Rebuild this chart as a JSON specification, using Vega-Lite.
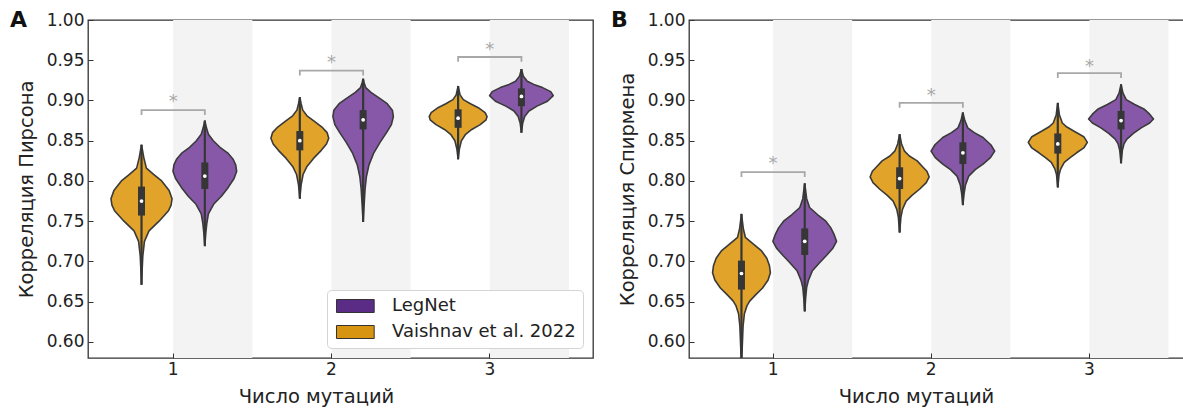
{
  "$schema": "https://vega.github.io/schema/vega-lite/v6.json",
  "background": "white",
  "padding": {"left": 9, "top": 8, "right": 0, "bottom": 0},
  "config": {
    "font": "DejaVu Sans",
    "view": {"stroke": "#333333", "strokeWidth": 1.3},
    "axis": {"labelFontSize": 17, "titleFontSize": 19.5, "titleFontWeight": "normal", "labelColor": "#222222", "titleColor": "#222222", "tickColor": "#333333", "grid": false, "domain": false, "tickSize": -5}
  },
  "datasets": {
    "viol": [
      {"p":"A","mut":1,"model":"Vaishnav et al. 2022","v":0.671,"d":0},{"p":"A","mut":1,"model":"Vaishnav et al. 2022","v":0.690,"d":0.02},{"p":"A","mut":1,"model":"Vaishnav et al. 2022","v":0.707,"d":0.04},{"p":"A","mut":1,"model":"Vaishnav et al. 2022","v":0.725,"d":0.09},{"p":"A","mut":1,"model":"Vaishnav et al. 2022","v":0.738,"d":0.23},{"p":"A","mut":1,"model":"Vaishnav et al. 2022","v":0.750,"d":0.54},{"p":"A","mut":1,"model":"Vaishnav et al. 2022","v":0.763,"d":0.83},{"p":"A","mut":1,"model":"Vaishnav et al. 2022","v":0.770,"d":0.91},{"p":"A","mut":1,"model":"Vaishnav et al. 2022","v":0.778,"d":0.94},{"p":"A","mut":1,"model":"Vaishnav et al. 2022","v":0.788,"d":0.85},{"p":"A","mut":1,"model":"Vaishnav et al. 2022","v":0.800,"d":0.62},{"p":"A","mut":1,"model":"Vaishnav et al. 2022","v":0.808,"d":0.38},{"p":"A","mut":1,"model":"Vaishnav et al. 2022","v":0.816,"d":0.15},{"p":"A","mut":1,"model":"Vaishnav et al. 2022","v":0.829,"d":0.07},{"p":"A","mut":1,"model":"Vaishnav et al. 2022","v":0.845,"d":0},
      {"p":"A","mut":1,"model":"LegNet","v":0.719,"d":0},{"p":"A","mut":1,"model":"LegNet","v":0.735,"d":0.03},{"p":"A","mut":1,"model":"LegNet","v":0.747,"d":0.06},{"p":"A","mut":1,"model":"LegNet","v":0.759,"d":0.11},{"p":"A","mut":1,"model":"LegNet","v":0.771,"d":0.27},{"p":"A","mut":1,"model":"LegNet","v":0.781,"d":0.51},{"p":"A","mut":1,"model":"LegNet","v":0.792,"d":0.72},{"p":"A","mut":1,"model":"LegNet","v":0.803,"d":0.90},{"p":"A","mut":1,"model":"LegNet","v":0.812,"d":0.98},{"p":"A","mut":1,"model":"LegNet","v":0.820,"d":0.95},{"p":"A","mut":1,"model":"LegNet","v":0.827,"d":0.87},{"p":"A","mut":1,"model":"LegNet","v":0.835,"d":0.70},{"p":"A","mut":1,"model":"LegNet","v":0.841,"d":0.49},{"p":"A","mut":1,"model":"LegNet","v":0.850,"d":0.26},{"p":"A","mut":1,"model":"LegNet","v":0.858,"d":0.11},{"p":"A","mut":1,"model":"LegNet","v":0.866,"d":0.05},{"p":"A","mut":1,"model":"LegNet","v":0.875,"d":0},
      {"p":"A","mut":2,"model":"Vaishnav et al. 2022","v":0.778,"d":0},{"p":"A","mut":2,"model":"Vaishnav et al. 2022","v":0.795,"d":0.04},{"p":"A","mut":2,"model":"Vaishnav et al. 2022","v":0.808,"d":0.10},{"p":"A","mut":2,"model":"Vaishnav et al. 2022","v":0.818,"d":0.22},{"p":"A","mut":2,"model":"Vaishnav et al. 2022","v":0.828,"d":0.42},{"p":"A","mut":2,"model":"Vaishnav et al. 2022","v":0.838,"d":0.66},{"p":"A","mut":2,"model":"Vaishnav et al. 2022","v":0.846,"d":0.82},{"p":"A","mut":2,"model":"Vaishnav et al. 2022","v":0.853,"d":0.89},{"p":"A","mut":2,"model":"Vaishnav et al. 2022","v":0.860,"d":0.84},{"p":"A","mut":2,"model":"Vaishnav et al. 2022","v":0.867,"d":0.68},{"p":"A","mut":2,"model":"Vaishnav et al. 2022","v":0.874,"d":0.45},{"p":"A","mut":2,"model":"Vaishnav et al. 2022","v":0.881,"d":0.22},{"p":"A","mut":2,"model":"Vaishnav et al. 2022","v":0.888,"d":0.09},{"p":"A","mut":2,"model":"Vaishnav et al. 2022","v":0.896,"d":0.04},{"p":"A","mut":2,"model":"Vaishnav et al. 2022","v":0.904,"d":0},
      {"p":"A","mut":2,"model":"LegNet","v":0.749,"d":0},{"p":"A","mut":2,"model":"LegNet","v":0.770,"d":0.03},{"p":"A","mut":2,"model":"LegNet","v":0.790,"d":0.06},{"p":"A","mut":2,"model":"LegNet","v":0.805,"d":0.10},{"p":"A","mut":2,"model":"LegNet","v":0.820,"d":0.18},{"p":"A","mut":2,"model":"LegNet","v":0.835,"d":0.33},{"p":"A","mut":2,"model":"LegNet","v":0.848,"d":0.52},{"p":"A","mut":2,"model":"LegNet","v":0.860,"d":0.72},{"p":"A","mut":2,"model":"LegNet","v":0.870,"d":0.87},{"p":"A","mut":2,"model":"LegNet","v":0.880,"d":0.93},{"p":"A","mut":2,"model":"LegNet","v":0.888,"d":0.90},{"p":"A","mut":2,"model":"LegNet","v":0.896,"d":0.74},{"p":"A","mut":2,"model":"LegNet","v":0.903,"d":0.50},{"p":"A","mut":2,"model":"LegNet","v":0.910,"d":0.24},{"p":"A","mut":2,"model":"LegNet","v":0.916,"d":0.08},{"p":"A","mut":2,"model":"LegNet","v":0.922,"d":0.03},{"p":"A","mut":2,"model":"LegNet","v":0.927,"d":0},
      {"p":"A","mut":3,"model":"Vaishnav et al. 2022","v":0.827,"d":0},{"p":"A","mut":3,"model":"Vaishnav et al. 2022","v":0.840,"d":0.04},{"p":"A","mut":3,"model":"Vaishnav et al. 2022","v":0.850,"d":0.10},{"p":"A","mut":3,"model":"Vaishnav et al. 2022","v":0.858,"d":0.23},{"p":"A","mut":3,"model":"Vaishnav et al. 2022","v":0.864,"d":0.42},{"p":"A","mut":3,"model":"Vaishnav et al. 2022","v":0.870,"d":0.68},{"p":"A","mut":3,"model":"Vaishnav et al. 2022","v":0.876,"d":0.86},{"p":"A","mut":3,"model":"Vaishnav et al. 2022","v":0.880,"d":0.89},{"p":"A","mut":3,"model":"Vaishnav et al. 2022","v":0.885,"d":0.83},{"p":"A","mut":3,"model":"Vaishnav et al. 2022","v":0.891,"d":0.62},{"p":"A","mut":3,"model":"Vaishnav et al. 2022","v":0.896,"d":0.38},{"p":"A","mut":3,"model":"Vaishnav et al. 2022","v":0.901,"d":0.16},{"p":"A","mut":3,"model":"Vaishnav et al. 2022","v":0.907,"d":0.06},{"p":"A","mut":3,"model":"Vaishnav et al. 2022","v":0.918,"d":0},
      {"p":"A","mut":3,"model":"LegNet","v":0.860,"d":0},{"p":"A","mut":3,"model":"LegNet","v":0.872,"d":0.04},{"p":"A","mut":3,"model":"LegNet","v":0.880,"d":0.10},{"p":"A","mut":3,"model":"LegNet","v":0.887,"d":0.23},{"p":"A","mut":3,"model":"LegNet","v":0.893,"d":0.48},{"p":"A","mut":3,"model":"LegNet","v":0.899,"d":0.80},{"p":"A","mut":3,"model":"LegNet","v":0.906,"d":0.98},{"p":"A","mut":3,"model":"LegNet","v":0.911,"d":0.90},{"p":"A","mut":3,"model":"LegNet","v":0.916,"d":0.65},{"p":"A","mut":3,"model":"LegNet","v":0.920,"d":0.38},{"p":"A","mut":3,"model":"LegNet","v":0.924,"d":0.18},{"p":"A","mut":3,"model":"LegNet","v":0.930,"d":0.06},{"p":"A","mut":3,"model":"LegNet","v":0.939,"d":0},
      {"p":"B","mut":1,"model":"Vaishnav et al. 2022","v":0.570,"d":0},{"p":"B","mut":1,"model":"Vaishnav et al. 2022","v":0.600,"d":0.03},{"p":"B","mut":1,"model":"Vaishnav et al. 2022","v":0.620,"d":0.05},{"p":"B","mut":1,"model":"Vaishnav et al. 2022","v":0.635,"d":0.09},{"p":"B","mut":1,"model":"Vaishnav et al. 2022","v":0.645,"d":0.17},{"p":"B","mut":1,"model":"Vaishnav et al. 2022","v":0.651,"d":0.26},{"p":"B","mut":1,"model":"Vaishnav et al. 2022","v":0.659,"d":0.45},{"p":"B","mut":1,"model":"Vaishnav et al. 2022","v":0.667,"d":0.65},{"p":"B","mut":1,"model":"Vaishnav et al. 2022","v":0.677,"d":0.82},{"p":"B","mut":1,"model":"Vaishnav et al. 2022","v":0.686,"d":0.89},{"p":"B","mut":1,"model":"Vaishnav et al. 2022","v":0.695,"d":0.86},{"p":"B","mut":1,"model":"Vaishnav et al. 2022","v":0.704,"d":0.78},{"p":"B","mut":1,"model":"Vaishnav et al. 2022","v":0.713,"d":0.62},{"p":"B","mut":1,"model":"Vaishnav et al. 2022","v":0.722,"d":0.35},{"p":"B","mut":1,"model":"Vaishnav et al. 2022","v":0.730,"d":0.12},{"p":"B","mut":1,"model":"Vaishnav et al. 2022","v":0.740,"d":0.06},{"p":"B","mut":1,"model":"Vaishnav et al. 2022","v":0.759,"d":0},
      {"p":"B","mut":1,"model":"LegNet","v":0.638,"d":0},{"p":"B","mut":1,"model":"LegNet","v":0.655,"d":0.03},{"p":"B","mut":1,"model":"LegNet","v":0.668,"d":0.06},{"p":"B","mut":1,"model":"LegNet","v":0.676,"d":0.11},{"p":"B","mut":1,"model":"LegNet","v":0.688,"d":0.23},{"p":"B","mut":1,"model":"LegNet","v":0.698,"d":0.45},{"p":"B","mut":1,"model":"LegNet","v":0.707,"d":0.66},{"p":"B","mut":1,"model":"LegNet","v":0.716,"d":0.86},{"p":"B","mut":1,"model":"LegNet","v":0.725,"d":0.98},{"p":"B","mut":1,"model":"LegNet","v":0.734,"d":0.90},{"p":"B","mut":1,"model":"LegNet","v":0.742,"d":0.80},{"p":"B","mut":1,"model":"LegNet","v":0.750,"d":0.65},{"p":"B","mut":1,"model":"LegNet","v":0.758,"d":0.40},{"p":"B","mut":1,"model":"LegNet","v":0.767,"d":0.15},{"p":"B","mut":1,"model":"LegNet","v":0.778,"d":0.06},{"p":"B","mut":1,"model":"LegNet","v":0.797,"d":0},
      {"p":"B","mut":2,"model":"Vaishnav et al. 2022","v":0.736,"d":0},{"p":"B","mut":2,"model":"Vaishnav et al. 2022","v":0.755,"d":0.04},{"p":"B","mut":2,"model":"Vaishnav et al. 2022","v":0.765,"d":0.09},{"p":"B","mut":2,"model":"Vaishnav et al. 2022","v":0.775,"d":0.20},{"p":"B","mut":2,"model":"Vaishnav et al. 2022","v":0.782,"d":0.38},{"p":"B","mut":2,"model":"Vaishnav et al. 2022","v":0.790,"d":0.62},{"p":"B","mut":2,"model":"Vaishnav et al. 2022","v":0.798,"d":0.82},{"p":"B","mut":2,"model":"Vaishnav et al. 2022","v":0.805,"d":0.91},{"p":"B","mut":2,"model":"Vaishnav et al. 2022","v":0.812,"d":0.84},{"p":"B","mut":2,"model":"Vaishnav et al. 2022","v":0.818,"d":0.70},{"p":"B","mut":2,"model":"Vaishnav et al. 2022","v":0.825,"d":0.54},{"p":"B","mut":2,"model":"Vaishnav et al. 2022","v":0.831,"d":0.30},{"p":"B","mut":2,"model":"Vaishnav et al. 2022","v":0.837,"d":0.15},{"p":"B","mut":2,"model":"Vaishnav et al. 2022","v":0.846,"d":0.06},{"p":"B","mut":2,"model":"Vaishnav et al. 2022","v":0.858,"d":0},
      {"p":"B","mut":2,"model":"LegNet","v":0.770,"d":0},{"p":"B","mut":2,"model":"LegNet","v":0.785,"d":0.04},{"p":"B","mut":2,"model":"LegNet","v":0.795,"d":0.08},{"p":"B","mut":2,"model":"LegNet","v":0.806,"d":0.18},{"p":"B","mut":2,"model":"LegNet","v":0.814,"d":0.38},{"p":"B","mut":2,"model":"LegNet","v":0.821,"d":0.62},{"p":"B","mut":2,"model":"LegNet","v":0.829,"d":0.85},{"p":"B","mut":2,"model":"LegNet","v":0.837,"d":0.98},{"p":"B","mut":2,"model":"LegNet","v":0.845,"d":0.86},{"p":"B","mut":2,"model":"LegNet","v":0.854,"d":0.62},{"p":"B","mut":2,"model":"LegNet","v":0.860,"d":0.35},{"p":"B","mut":2,"model":"LegNet","v":0.866,"d":0.15},{"p":"B","mut":2,"model":"LegNet","v":0.875,"d":0.06},{"p":"B","mut":2,"model":"LegNet","v":0.885,"d":0},
      {"p":"B","mut":3,"model":"Vaishnav et al. 2022","v":0.792,"d":0},{"p":"B","mut":3,"model":"Vaishnav et al. 2022","v":0.808,"d":0.04},{"p":"B","mut":3,"model":"Vaishnav et al. 2022","v":0.815,"d":0.09},{"p":"B","mut":3,"model":"Vaishnav et al. 2022","v":0.823,"d":0.20},{"p":"B","mut":3,"model":"Vaishnav et al. 2022","v":0.829,"d":0.38},{"p":"B","mut":3,"model":"Vaishnav et al. 2022","v":0.835,"d":0.58},{"p":"B","mut":3,"model":"Vaishnav et al. 2022","v":0.841,"d":0.80},{"p":"B","mut":3,"model":"Vaishnav et al. 2022","v":0.848,"d":0.91},{"p":"B","mut":3,"model":"Vaishnav et al. 2022","v":0.855,"d":0.80},{"p":"B","mut":3,"model":"Vaishnav et al. 2022","v":0.862,"d":0.49},{"p":"B","mut":3,"model":"Vaishnav et al. 2022","v":0.867,"d":0.28},{"p":"B","mut":3,"model":"Vaishnav et al. 2022","v":0.872,"d":0.14},{"p":"B","mut":3,"model":"Vaishnav et al. 2022","v":0.882,"d":0.05},{"p":"B","mut":3,"model":"Vaishnav et al. 2022","v":0.897,"d":0},
      {"p":"B","mut":3,"model":"LegNet","v":0.822,"d":0},{"p":"B","mut":3,"model":"LegNet","v":0.838,"d":0.04},{"p":"B","mut":3,"model":"LegNet","v":0.846,"d":0.09},{"p":"B","mut":3,"model":"LegNet","v":0.852,"d":0.18},{"p":"B","mut":3,"model":"LegNet","v":0.859,"d":0.38},{"p":"B","mut":3,"model":"LegNet","v":0.866,"d":0.62},{"p":"B","mut":3,"model":"LegNet","v":0.872,"d":0.88},{"p":"B","mut":3,"model":"LegNet","v":0.877,"d":1.0},{"p":"B","mut":3,"model":"LegNet","v":0.883,"d":0.88},{"p":"B","mut":3,"model":"LegNet","v":0.889,"d":0.72},{"p":"B","mut":3,"model":"LegNet","v":0.895,"d":0.42},{"p":"B","mut":3,"model":"LegNet","v":0.901,"d":0.16},{"p":"B","mut":3,"model":"LegNet","v":0.909,"d":0.06},{"p":"B","mut":3,"model":"LegNet","v":0.920,"d":0}
    ],
    "box": [
      {"p":"A","mut":1,"model":"Vaishnav et al. 2022","lo":0.671,"q1":0.757,"med":0.775,"q3":0.793,"hi":0.845},
      {"p":"A","mut":1,"model":"LegNet","lo":0.719,"q1":0.790,"med":0.806,"q3":0.823,"hi":0.875},
      {"p":"A","mut":2,"model":"Vaishnav et al. 2022","lo":0.778,"q1":0.838,"med":0.850,"q3":0.862,"hi":0.904},
      {"p":"A","mut":2,"model":"LegNet","lo":0.749,"q1":0.864,"med":0.876,"q3":0.888,"hi":0.927},
      {"p":"A","mut":3,"model":"Vaishnav et al. 2022","lo":0.827,"q1":0.866,"med":0.878,"q3":0.889,"hi":0.918},
      {"p":"A","mut":3,"model":"LegNet","lo":0.860,"q1":0.893,"med":0.905,"q3":0.915,"hi":0.939},
      {"p":"B","mut":1,"model":"Vaishnav et al. 2022","lo":0.570,"q1":0.665,"med":0.685,"q3":0.701,"hi":0.759},
      {"p":"B","mut":1,"model":"LegNet","lo":0.638,"q1":0.708,"med":0.725,"q3":0.741,"hi":0.797},
      {"p":"B","mut":2,"model":"Vaishnav et al. 2022","lo":0.736,"q1":0.790,"med":0.803,"q3":0.817,"hi":0.858},
      {"p":"B","mut":2,"model":"LegNet","lo":0.770,"q1":0.821,"med":0.835,"q3":0.848,"hi":0.885},
      {"p":"B","mut":3,"model":"Vaishnav et al. 2022","lo":0.792,"q1":0.834,"med":0.846,"q3":0.859,"hi":0.897},
      {"p":"B","mut":3,"model":"LegNet","lo":0.822,"q1":0.864,"med":0.875,"q3":0.887,"hi":0.920}
    ],
    "brk": [
      {"p":"A","mut":1,"model":"Vaishnav et al. 2022","y":0.882,"k":1},{"p":"A","mut":1,"model":"Vaishnav et al. 2022","y":0.888,"k":2},{"p":"A","mut":1,"model":"LegNet","y":0.888,"k":3},{"p":"A","mut":1,"model":"LegNet","y":0.882,"k":4},
      {"p":"A","mut":2,"model":"Vaishnav et al. 2022","y":0.931,"k":1},{"p":"A","mut":2,"model":"Vaishnav et al. 2022","y":0.937,"k":2},{"p":"A","mut":2,"model":"LegNet","y":0.937,"k":3},{"p":"A","mut":2,"model":"LegNet","y":0.931,"k":4},
      {"p":"A","mut":3,"model":"Vaishnav et al. 2022","y":0.948,"k":1},{"p":"A","mut":3,"model":"Vaishnav et al. 2022","y":0.954,"k":2},{"p":"A","mut":3,"model":"LegNet","y":0.954,"k":3},{"p":"A","mut":3,"model":"LegNet","y":0.948,"k":4},
      {"p":"B","mut":1,"model":"Vaishnav et al. 2022","y":0.805,"k":1},{"p":"B","mut":1,"model":"Vaishnav et al. 2022","y":0.811,"k":2},{"p":"B","mut":1,"model":"LegNet","y":0.811,"k":3},{"p":"B","mut":1,"model":"LegNet","y":0.805,"k":4},
      {"p":"B","mut":2,"model":"Vaishnav et al. 2022","y":0.891,"k":1},{"p":"B","mut":2,"model":"Vaishnav et al. 2022","y":0.897,"k":2},{"p":"B","mut":2,"model":"LegNet","y":0.897,"k":3},{"p":"B","mut":2,"model":"LegNet","y":0.891,"k":4},
      {"p":"B","mut":3,"model":"Vaishnav et al. 2022","y":0.928,"k":1},{"p":"B","mut":3,"model":"Vaishnav et al. 2022","y":0.934,"k":2},{"p":"B","mut":3,"model":"LegNet","y":0.934,"k":3},{"p":"B","mut":3,"model":"LegNet","y":0.928,"k":4}
    ],
    "star": [
      {"p":"A","mut":1,"y":0.903},{"p":"A","mut":2,"y":0.951},{"p":"A","mut":3,"y":0.968},
      {"p":"B","mut":1,"y":0.826},{"p":"B","mut":2,"y":0.911},{"p":"B","mut":3,"y":0.947}
    ]
  },
  "hconcat": [
    {
      "width": 505,
      "height": 338,
      "title": {"text": "A", "anchor": "start", "frame": "group", "dx": -78, "offset": -21, "fontSize": 22, "fontWeight": "bold", "color": "#111111"},
      "layer": [
        {
          "data": {"name": "box"},
          "transform": [{"filter": "datum.p == 'A' && datum.model == 'LegNet'"}],
          "mark": {"type": "rect", "color": "#f3f3f3"},
          "encoding": {
            "x": {"field": "mut", "type": "nominal", "title": "Число мутаций", "scale": {"type": "band", "domain": [1, 2, 3], "paddingInner": 0, "paddingOuter": 0.095, "align": 0.2}, "axis": {"labelAngle": 0, "labelPadding": 8, "titlePadding": 10, "titleX": 228, "titleAlign": "center"}},
            "xOffset": {"field": "model", "scale": {"domain": ["Vaishnav et al. 2022", "LegNet"], "paddingInner": 0, "paddingOuter": 0}},
            "y": {"datum": 0.58, "type": "quantitative", "title": "Корреляция Пирсона", "scale": {"domain": [0.58, 1.0], "nice": false, "zero": false}, "axis": {"title": "Корреляция Пирсона", "values": [0.6, 0.65, 0.7, 0.75, 0.8, 0.85, 0.9, 0.95, 1.0], "format": ".2f", "labelPadding": 9, "titlePadding": 10}},
            "y2": {"datum": 1.0}
          }
        },
        {
          "data": {"name": "viol"},
          "transform": [{"filter": "datum.p == 'A' && datum.model == 'Vaishnav et al. 2022'"}],
          "mark": {"type": "line", "fill": "#e1a329", "stroke": "#3a3a3a", "strokeWidth": 1.6, "strokeJoin": "round", "clip": true},
          "encoding": {
            "x": {"field": "mut", "type": "nominal"},
            "xOffset": {"field": "d", "type": "quantitative", "scale": {"domain": [-1.4615, 3.409], "zero": false, "nice": false}},
            "y": {"field": "v", "type": "quantitative", "title": "Корреляция Пирсона"},
            "detail": {"field": "mut"},
            "order": {"field": "v", "type": "quantitative"}
          }
        },
        {
          "data": {"name": "viol"},
          "transform": [{"filter": "datum.p == 'A' && datum.model == 'Vaishnav et al. 2022'"}],
          "mark": {"type": "line", "fill": "#e1a329", "stroke": "#3a3a3a", "strokeWidth": 1.6, "strokeJoin": "round", "clip": true},
          "encoding": {
            "x": {"field": "mut", "type": "nominal"},
            "xOffset": {"field": "d", "type": "quantitative", "scale": {"domain": [-3.409, 1.4615], "reverse": true, "zero": false, "nice": false}},
            "y": {"field": "v", "type": "quantitative", "title": "Корреляция Пирсона"},
            "detail": {"field": "mut"},
            "order": {"field": "v", "type": "quantitative"}
          }
        },
        {
          "data": {"name": "viol"},
          "transform": [{"filter": "datum.p == 'A' && datum.model == 'LegNet'"}],
          "mark": {"type": "line", "fill": "#8757a8", "stroke": "#3a3a3a", "strokeWidth": 1.6, "strokeJoin": "round", "clip": true},
          "encoding": {
            "x": {"field": "mut", "type": "nominal"},
            "xOffset": {"field": "d", "type": "quantitative", "scale": {"domain": [-3.409, 1.4615], "zero": false, "nice": false}},
            "y": {"field": "v", "type": "quantitative", "title": "Корреляция Пирсона"},
            "detail": {"field": "mut"},
            "order": {"field": "v", "type": "quantitative"}
          }
        },
        {
          "data": {"name": "viol"},
          "transform": [{"filter": "datum.p == 'A' && datum.model == 'LegNet'"}],
          "mark": {"type": "line", "fill": "#8757a8", "stroke": "#3a3a3a", "strokeWidth": 1.6, "strokeJoin": "round", "clip": true},
          "encoding": {
            "x": {"field": "mut", "type": "nominal"},
            "xOffset": {"field": "d", "type": "quantitative", "scale": {"domain": [-1.4615, 3.409], "reverse": true, "zero": false, "nice": false}},
            "y": {"field": "v", "type": "quantitative", "title": "Корреляция Пирсона"},
            "detail": {"field": "mut"},
            "order": {"field": "v", "type": "quantitative"}
          }
        },
        {
          "data": {"name": "box"},
          "transform": [{"filter": "datum.p == 'A'"}],
          "mark": {"type": "rule", "color": "#363636", "strokeWidth": 2.2, "clip": true},
          "encoding": {
            "x": {"field": "mut", "type": "nominal"},
            "xOffset": {"field": "model", "scale": {"type": "band", "domain": ["Vaishnav et al. 2022", "LegNet"], "paddingInner": 0, "paddingOuter": 0.25}},
            "y": {"field": "lo", "type": "quantitative", "title": "Корреляция Пирсона"},
            "y2": {"field": "hi"}
          }
        },
        {
          "data": {"name": "box"},
          "transform": [{"filter": "datum.p == 'A'"}],
          "mark": {"type": "rule", "color": "#363636", "strokeWidth": 7, "strokeCap": "butt"},
          "encoding": {
            "x": {"field": "mut", "type": "nominal"},
            "xOffset": {"field": "model", "scale": {"type": "band", "domain": ["Vaishnav et al. 2022", "LegNet"], "paddingInner": 0, "paddingOuter": 0.25}},
            "y": {"field": "q1", "type": "quantitative", "title": "Корреляция Пирсона"},
            "y2": {"field": "q3"}
          }
        },
        {
          "data": {"name": "box"},
          "transform": [{"filter": "datum.p == 'A'"}],
          "mark": {"type": "circle", "color": "white", "size": 14, "opacity": 1},
          "encoding": {
            "x": {"field": "mut", "type": "nominal"},
            "xOffset": {"field": "model", "scale": {"type": "band", "domain": ["Vaishnav et al. 2022", "LegNet"], "paddingInner": 0, "paddingOuter": 0.25}},
            "y": {"field": "med", "type": "quantitative", "title": "Корреляция Пирсона"}
          }
        },
        {
          "data": {"name": "brk"},
          "transform": [{"filter": "datum.p == 'A'"}],
          "mark": {"type": "line", "color": "#a8a8a8", "strokeWidth": 1.8},
          "encoding": {
            "x": {"field": "mut", "type": "nominal"},
            "xOffset": {"field": "model", "scale": {"type": "band", "domain": ["Vaishnav et al. 2022", "LegNet"], "paddingInner": 0, "paddingOuter": 0.25}},
            "y": {"field": "y", "type": "quantitative", "title": "Корреляция Пирсона"},
            "detail": {"field": "mut"},
            "order": {"field": "k", "type": "quantitative"}
          }
        },
        {
          "data": {"name": "star"},
          "transform": [{"filter": "datum.p == 'A'"}],
          "mark": {"type": "text", "text": "*", "color": "#a8a8a8", "fontSize": 18, "baseline": "middle", "dy": 4},
          "encoding": {
            "x": {"field": "mut", "type": "nominal"},
            "y": {"field": "y", "type": "quantitative", "title": "Корреляция Пирсона"}
          }
        },
        {
          "data": {"name": "box"},
          "transform": [{"filter": "datum.p == 'A'"}],
          "mark": {"type": "square", "opacity": 0, "size": 10},
          "encoding": {
            "x": {"field": "mut", "type": "nominal"},
            "xOffset": {"field": "model", "scale": {"type": "band", "domain": ["Vaishnav et al. 2022", "LegNet"], "paddingInner": 0, "paddingOuter": 0.25}},
            "y": {"field": "med", "type": "quantitative", "title": "Корреляция Пирсона"},
            "color": {"field": "model", "type": "nominal", "scale": {"domain": ["LegNet", "Vaishnav et al. 2022"], "range": ["#5a2c86", "#d69410"]},
              "legend": {"title": null, "orient": "bottom-right", "offset": 10, "fillColor": "white", "strokeColor": "#d4d4d4", "cornerRadius": 4, "padding": 7, "rowPadding": 8, "labelFontSize": 18, "labelLimit": 400, "labelColor": "#222222", "labelOffset": 40, "symbolType": "M-1,-1H4.8V1H-1Z", "symbolSize": 169, "symbolOpacity": 1, "symbolStrokeColor": "#333333", "symbolStrokeWidth": 1,
                "encode": {"symbols": {"update": {"stroke": {"value": "#333333"}, "strokeWidth": {"value": 1}, "opacity": {"value": 1}, "fillOpacity": {"value": 1}}}}}}
          }
        }
      ],
      "resolve": {"scale": {"xOffset": "independent"}}
    },
    {
      "width": 496,
      "height": 338,
      "title": {"text": "B", "anchor": "start", "frame": "group", "dx": -78, "offset": -21, "fontSize": 22, "fontWeight": "bold", "color": "#111111"},
      "layer": [
        {
          "data": {"name": "box"},
          "transform": [{"filter": "datum.p == 'B' && datum.model == 'LegNet'"}],
          "mark": {"type": "rect", "color": "#f3f3f3"},
          "encoding": {
            "x": {"field": "mut", "type": "nominal", "title": "Число мутаций", "scale": {"type": "band", "domain": [1, 2, 3], "paddingInner": 0, "paddingOuter": 0.068, "align": 0.233}, "axis": {"labelAngle": 0, "labelPadding": 8, "titlePadding": 10, "titleX": 227, "titleAlign": "center"}},
            "xOffset": {"field": "model", "scale": {"domain": ["Vaishnav et al. 2022", "LegNet"], "paddingInner": 0, "paddingOuter": 0}},
            "y": {"datum": 0.58, "type": "quantitative", "title": "Корреляция Спирмена", "scale": {"domain": [0.58, 1.0], "nice": false, "zero": false}, "axis": {"title": "Корреляция Спирмена", "values": [0.6, 0.65, 0.7, 0.75, 0.8, 0.85, 0.9, 0.95, 1.0], "format": ".2f", "labelPadding": 9, "titlePadding": 10}},
            "y2": {"datum": 1.0}
          }
        },
        {
          "data": {"name": "viol"},
          "transform": [{"filter": "datum.p == 'B' && datum.model == 'Vaishnav et al. 2022'"}],
          "mark": {"type": "line", "fill": "#e1a329", "stroke": "#3a3a3a", "strokeWidth": 1.6, "strokeJoin": "round", "clip": true},
          "encoding": {
            "x": {"field": "mut", "type": "nominal"},
            "xOffset": {"field": "d", "type": "quantitative", "scale": {"domain": [-1.4615, 3.409], "zero": false, "nice": false}},
            "y": {"field": "v", "type": "quantitative", "title": "Корреляция Спирмена"},
            "detail": {"field": "mut"},
            "order": {"field": "v", "type": "quantitative"}
          }
        },
        {
          "data": {"name": "viol"},
          "transform": [{"filter": "datum.p == 'B' && datum.model == 'Vaishnav et al. 2022'"}],
          "mark": {"type": "line", "fill": "#e1a329", "stroke": "#3a3a3a", "strokeWidth": 1.6, "strokeJoin": "round", "clip": true},
          "encoding": {
            "x": {"field": "mut", "type": "nominal"},
            "xOffset": {"field": "d", "type": "quantitative", "scale": {"domain": [-3.409, 1.4615], "reverse": true, "zero": false, "nice": false}},
            "y": {"field": "v", "type": "quantitative", "title": "Корреляция Спирмена"},
            "detail": {"field": "mut"},
            "order": {"field": "v", "type": "quantitative"}
          }
        },
        {
          "data": {"name": "viol"},
          "transform": [{"filter": "datum.p == 'B' && datum.model == 'LegNet'"}],
          "mark": {"type": "line", "fill": "#8757a8", "stroke": "#3a3a3a", "strokeWidth": 1.6, "strokeJoin": "round", "clip": true},
          "encoding": {
            "x": {"field": "mut", "type": "nominal"},
            "xOffset": {"field": "d", "type": "quantitative", "scale": {"domain": [-3.409, 1.4615], "zero": false, "nice": false}},
            "y": {"field": "v", "type": "quantitative", "title": "Корреляция Спирмена"},
            "detail": {"field": "mut"},
            "order": {"field": "v", "type": "quantitative"}
          }
        },
        {
          "data": {"name": "viol"},
          "transform": [{"filter": "datum.p == 'B' && datum.model == 'LegNet'"}],
          "mark": {"type": "line", "fill": "#8757a8", "stroke": "#3a3a3a", "strokeWidth": 1.6, "strokeJoin": "round", "clip": true},
          "encoding": {
            "x": {"field": "mut", "type": "nominal"},
            "xOffset": {"field": "d", "type": "quantitative", "scale": {"domain": [-1.4615, 3.409], "reverse": true, "zero": false, "nice": false}},
            "y": {"field": "v", "type": "quantitative", "title": "Корреляция Спирмена"},
            "detail": {"field": "mut"},
            "order": {"field": "v", "type": "quantitative"}
          }
        },
        {
          "data": {"name": "box"},
          "transform": [{"filter": "datum.p == 'B'"}],
          "mark": {"type": "rule", "color": "#363636", "strokeWidth": 2.2, "clip": true},
          "encoding": {
            "x": {"field": "mut", "type": "nominal"},
            "xOffset": {"field": "model", "scale": {"type": "band", "domain": ["Vaishnav et al. 2022", "LegNet"], "paddingInner": 0, "paddingOuter": 0.25}},
            "y": {"field": "lo", "type": "quantitative", "title": "Корреляция Спирмена"},
            "y2": {"field": "hi"}
          }
        },
        {
          "data": {"name": "box"},
          "transform": [{"filter": "datum.p == 'B'"}],
          "mark": {"type": "rule", "color": "#363636", "strokeWidth": 7, "strokeCap": "butt"},
          "encoding": {
            "x": {"field": "mut", "type": "nominal"},
            "xOffset": {"field": "model", "scale": {"type": "band", "domain": ["Vaishnav et al. 2022", "LegNet"], "paddingInner": 0, "paddingOuter": 0.25}},
            "y": {"field": "q1", "type": "quantitative", "title": "Корреляция Спирмена"},
            "y2": {"field": "q3"}
          }
        },
        {
          "data": {"name": "box"},
          "transform": [{"filter": "datum.p == 'B'"}],
          "mark": {"type": "circle", "color": "white", "size": 14, "opacity": 1},
          "encoding": {
            "x": {"field": "mut", "type": "nominal"},
            "xOffset": {"field": "model", "scale": {"type": "band", "domain": ["Vaishnav et al. 2022", "LegNet"], "paddingInner": 0, "paddingOuter": 0.25}},
            "y": {"field": "med", "type": "quantitative", "title": "Корреляция Спирмена"}
          }
        },
        {
          "data": {"name": "brk"},
          "transform": [{"filter": "datum.p == 'B'"}],
          "mark": {"type": "line", "color": "#a8a8a8", "strokeWidth": 1.8},
          "encoding": {
            "x": {"field": "mut", "type": "nominal"},
            "xOffset": {"field": "model", "scale": {"type": "band", "domain": ["Vaishnav et al. 2022", "LegNet"], "paddingInner": 0, "paddingOuter": 0.25}},
            "y": {"field": "y", "type": "quantitative", "title": "Корреляция Спирмена"},
            "detail": {"field": "mut"},
            "order": {"field": "k", "type": "quantitative"}
          }
        },
        {
          "data": {"name": "star"},
          "transform": [{"filter": "datum.p == 'B'"}],
          "mark": {"type": "text", "text": "*", "color": "#a8a8a8", "fontSize": 18, "baseline": "middle", "dy": 4},
          "encoding": {
            "x": {"field": "mut", "type": "nominal"},
            "y": {"field": "y", "type": "quantitative", "title": "Корреляция Спирмена"}
          }
        }
      ],
      "resolve": {"scale": {"xOffset": "independent"}}
    }
  ],
  "spacing": 16,
  "resolve": {"scale": {"color": "independent", "xOffset": "independent"}, "legend": {"color": "independent"}}
}
